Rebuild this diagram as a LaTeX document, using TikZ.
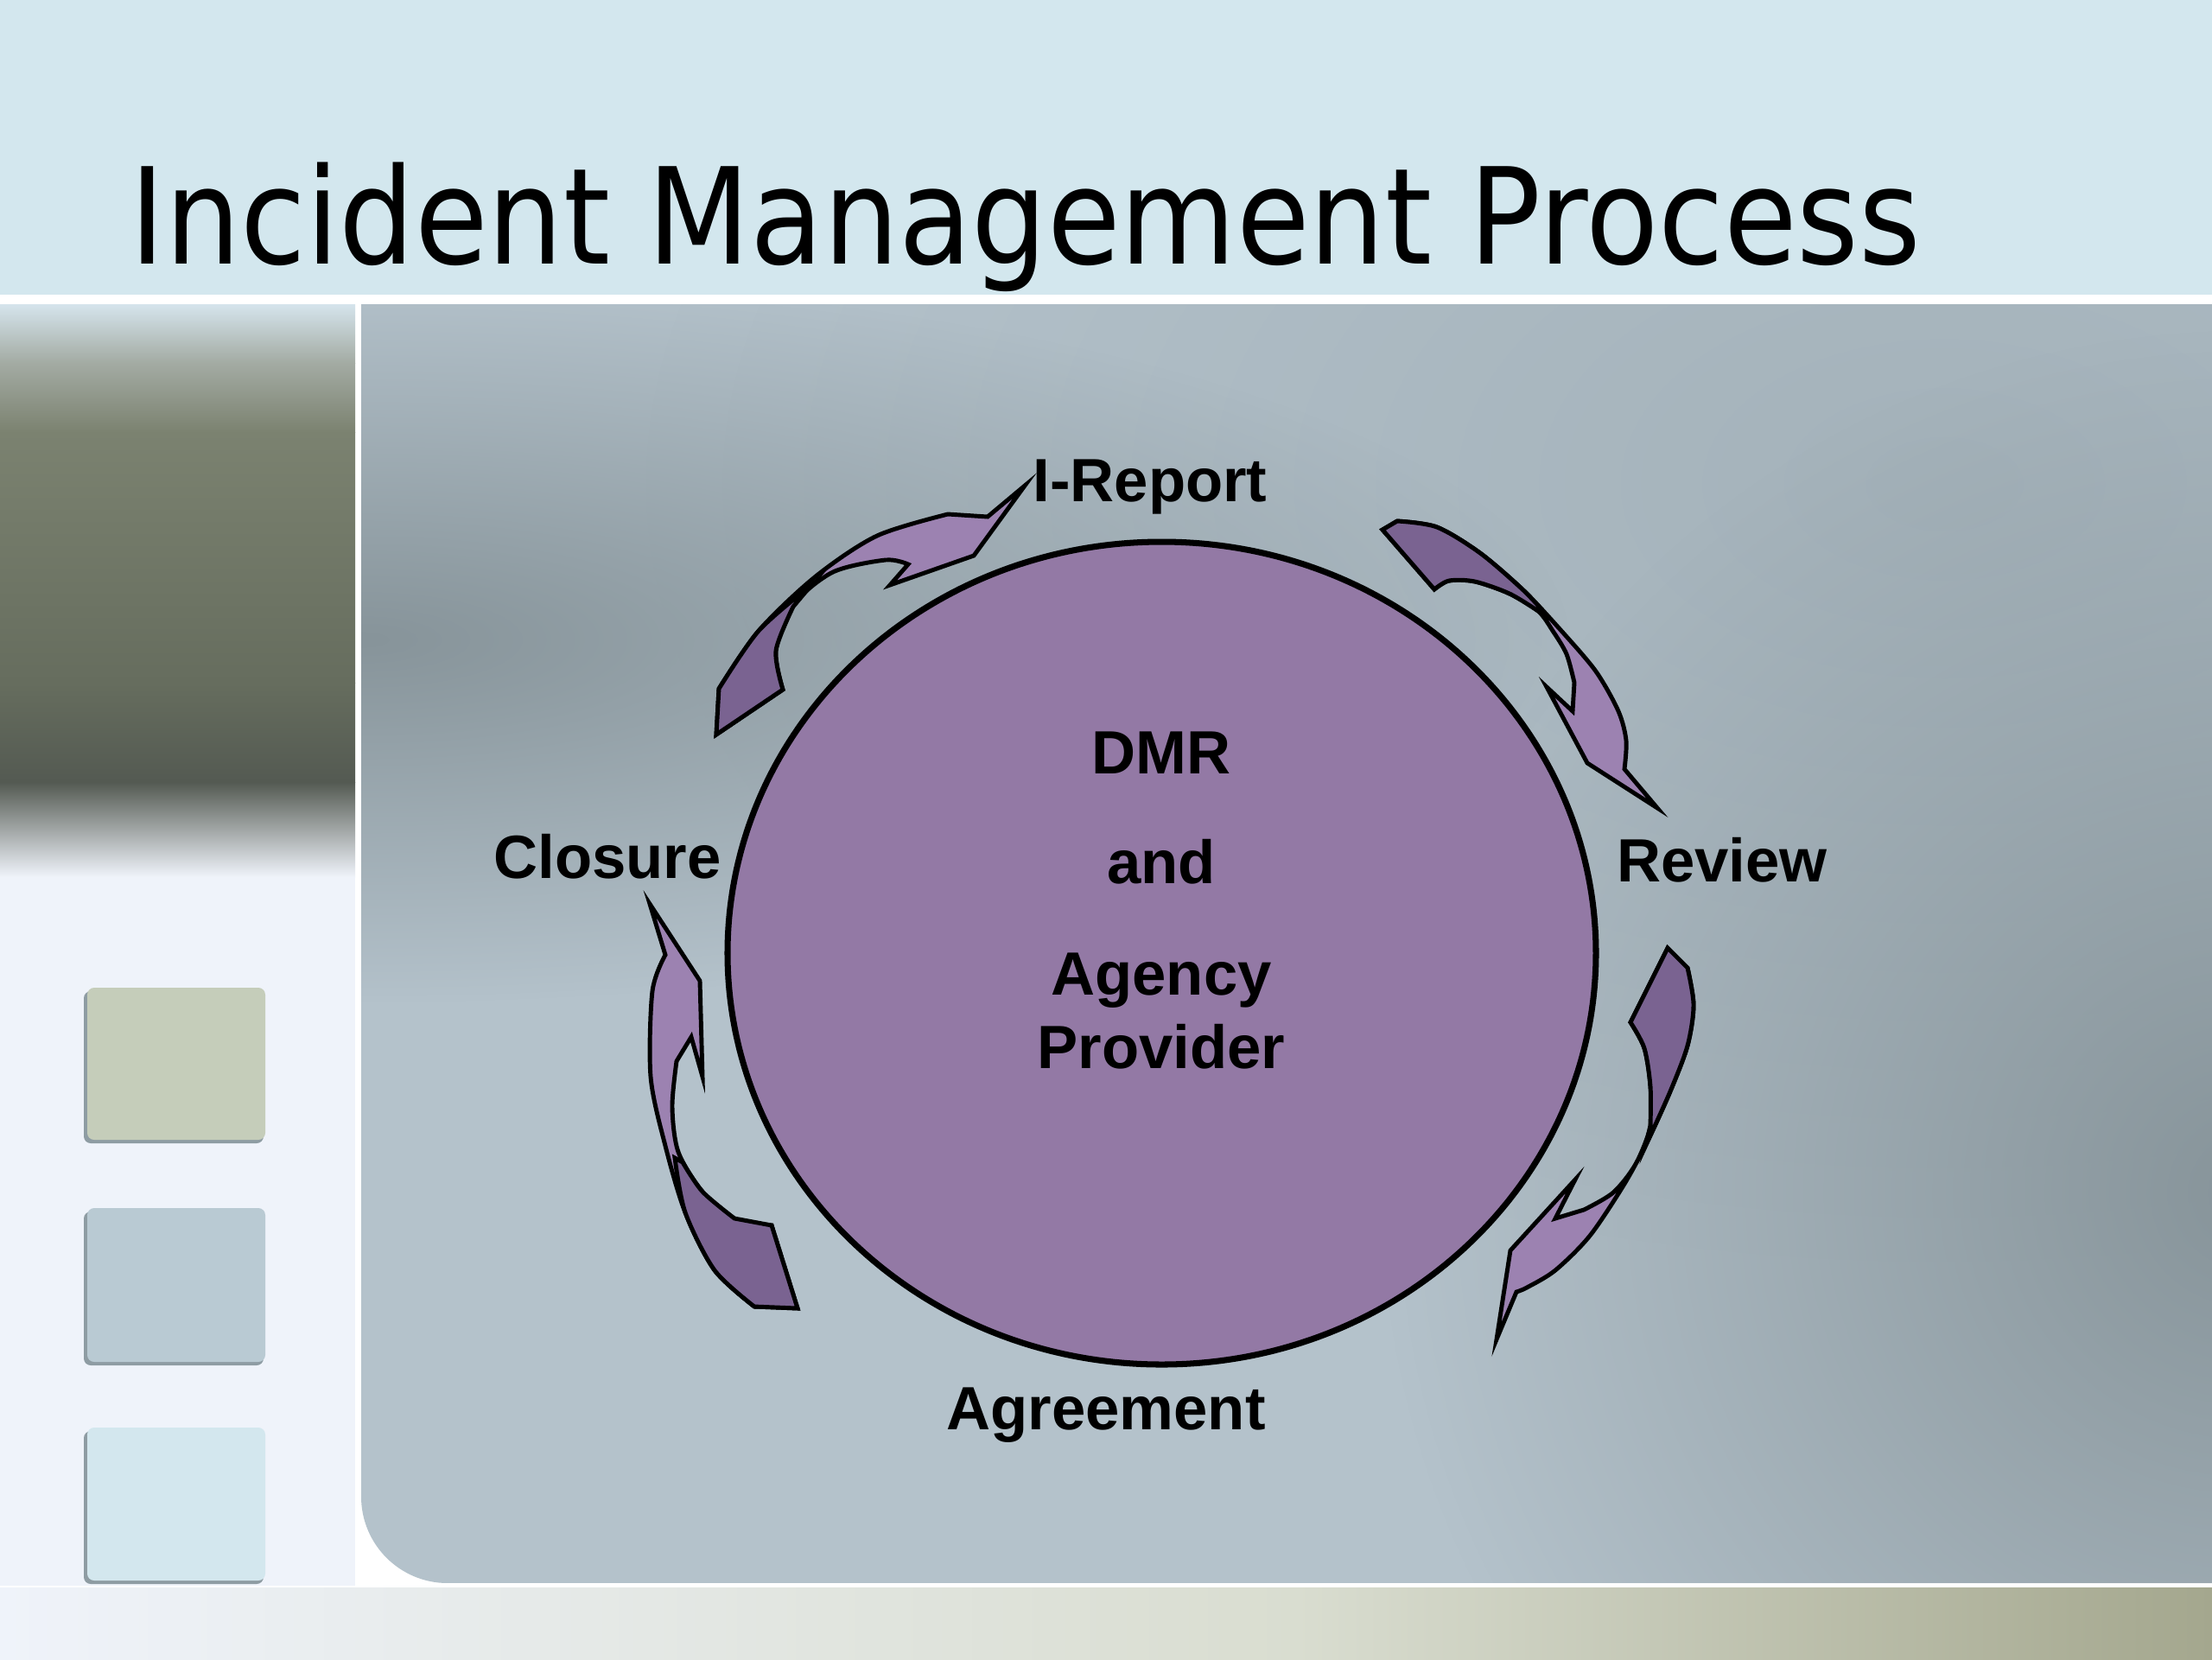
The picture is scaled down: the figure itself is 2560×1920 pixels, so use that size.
\documentclass[tikz,border=0pt]{standalone}
\usepackage{fontspec}
\setmainfont{Liberation Sans}
\newfontfamily\titlefont[FakeStretch=0.89]{DejaVu Sans}
\usetikzlibrary{fadings}

\definecolor{bandblue}{HTML}{D3E7EE}
\definecolor{paleside}{HTML}{EFF3FA}
\definecolor{panelgray}{HTML}{B4C2CB}
\definecolor{panelshadow}{HTML}{87949A}
\definecolor{discpurple}{HTML}{9379A5}
\definecolor{arrowlight}{HTML}{9C82B1}
\definecolor{arrowdark}{HTML}{7A6391}
\definecolor{tileolive}{HTML}{C5CDBA}
\definecolor{tilegray}{HTML}{B9CAD3}
\definecolor{tileblue}{HTML}{D3E7EE}
\definecolor{tileedge}{HTML}{8E9CA3}

\tikzfading[name=softblob, inner color=transparent!0, outer color=transparent!100]

\tikzset{
  steplabel/.style={font=\bfseries\fontsize{20.1}{24}\selectfont, inner sep=0pt, anchor=base},
  titletext/.style={font=\titlefont\fontsize{44}{50}\selectfont, inner sep=0pt, anchor=base west},
  twist/.style={draw=black, line width=1.4pt, line join=miter, fill=arrowlight},
  tile/.style={rounded corners=0.8mm}
}

\begin{document}
\begin{tikzpicture}[x=0.01cm, y=-0.01cm]
    \useasboundingbox (0,0) rectangle (2560,1920);
    \fill[white] (0,0) rectangle (2560,1920);

    % Title band
    \fill[bandblue] (0,0) rectangle (2560,341);
    \node[titletext] (title) at (150,305) {Incident Management Process};

    % Left side panel with blurred band
    \shade[top color={rgb,255:red,213;green,228;blue,236}, bottom color={rgb,255:red,163;green,171;blue,163}] (0,352) rectangle (411,420);
    \shade[top color={rgb,255:red,163;green,171;blue,163}, bottom color={rgb,255:red,123;green,130;blue,112}] (0,420) rectangle (411,500);
    \shade[top color={rgb,255:red,123;green,130;blue,112}, bottom color={rgb,255:red,102;green,109;blue,94}] (0,500) rectangle (411,790);
    \shade[top color={rgb,255:red,102;green,109;blue,94}, bottom color={rgb,255:red,84;green,90;blue,82}] (0,790) rectangle (411,905);
    \shade[top color={rgb,255:red,84;green,90;blue,82}, bottom color=paleside] (0,905) rectangle (411,1015);
    \fill[paleside] (0,1015) rectangle (411,1835);

    % Tiles
    \fill[tileedge, tile] (97,1147) rectangle (305,1323);
    \fill[tileolive, tile] (101,1143) rectangle (307,1319);
    \fill[tileedge, tile] (97,1402) rectangle (305,1580);
    \fill[tilegray, tile] (101,1398) rectangle (307,1576);
    \fill[tileedge, tile] (97,1656) rectangle (305,1833);
    \fill[tileblue, tile] (101,1652) rectangle (307,1829);

    % Bottom strip
    \shade[left color=paleside, right color={rgb,255:red,217;green,221;blue,208}] (0,1837) rectangle (1500,1920);
    \shade[left color={rgb,255:red,217;green,221;blue,208}, right color={rgb,255:red,164;green,167;blue,142}] (1500,1837) rectangle (2560,1920);

    % Main panel
    \begin{scope}
        \clip (2560,352) -- (418,352) [rounded corners=1cm] -- (418,1832) [sharp corners] -- (2560,1832) -- cycle;
        \fill[panelgray] (418,352) rectangle (2560,1832);
        \fill[panelshadow!35!panelgray, path fading=softblob] (2250,560) ellipse [x radius=1500, y radius=900];
        \fill[panelshadow, path fading=softblob] (420,740) ellipse [x radius=1400, y radius=420];
        \fill[panelshadow, path fading=softblob] (2600,1380) ellipse [x radius=1000, y radius=1000];
    \end{scope}

    % Disc
    \coordinate (hub) at (1344.5,1103);
    \draw[line width=2pt, fill=discpurple] (hub) ellipse [x radius=502.5, y radius=476];
    \node[steplabel] (dmr) at (1344,895) {DMR};
    \node[steplabel] (andword) at (1344,1022) {and};
    \node[steplabel] (agency) at (1344,1151) {Agency};
    \node[steplabel] (provider) at (1344,1236) {Provider};

    % Curved arrows
    % Closure -> I-Report
    \draw[twist] (829,850) -- plot[smooth] coordinates {(832,797) (878,730) (944,667) (1015,620) (1097,595)}
        -- (1143,598) -- (1186,562) -- (1127,643) -- (1030,677)
        -- plot[smooth] coordinates {(1051,653) (1025,648) (964,662) (918,700) (898,753) (906,798)} -- cycle;
    \draw[twist, fill=arrowdark] (829,850) -- plot[smooth] coordinates {(832,797) (878,730) (939,677)}
        -- plot[smooth] coordinates {(918,702) (898,753) (906,798)} -- cycle;

    % I-Report -> Review
    \draw[twist] (1600,613) -- plot[smooth] coordinates {(1617,603) (1663,610) (1713,640) (1763,683) (1807,730) (1847,777) (1873,823) (1882,857) (1880,890)}
        -- (1918,935) -- (1837,883) -- (1790,795) -- (1820,823)
        -- plot[smooth] coordinates {(1822,790) (1813,757) (1797,730) (1780,707) (1747,687) (1707,673) (1677,672) (1660,682)} -- cycle;
    \draw[twist, fill=arrowdark] (1600,613) -- plot[smooth] coordinates {(1617,603) (1663,610) (1713,640) (1763,683) (1790,712)}
        -- plot[smooth] coordinates {(1780,707) (1747,687) (1707,673) (1677,672) (1660,682)} -- cycle;

    % Review -> Agreement
    \draw[twist] (1930,1097) -- plot[smooth] coordinates {(1953,1120) (1960,1163) (1953,1210) (1933,1263) (1907,1320) (1880,1370) (1840,1430) (1800,1470) (1767,1490) (1755,1495)}
        -- (1732,1550) -- (1748,1447) -- (1823,1365) -- (1800,1410)
        -- plot[smooth] coordinates {(1833,1400) (1867,1380) (1893,1347) (1910,1303) (1910,1257) (1903,1213) (1887,1183)} -- cycle;
    \draw[twist, fill=arrowdark] (1930,1097) -- plot[smooth] coordinates {(1953,1120) (1960,1163) (1953,1210) (1933,1263) (1905,1325)}
        -- plot[smooth] coordinates {(1910,1303) (1910,1257) (1903,1213) (1887,1183)} -- cycle;

    % Agreement -> Closure
    \draw[twist] (752,1046) -- (810,1135) -- (813,1246) -- (800,1200)
        -- plot[smooth] coordinates {(783,1228) (778,1281) (785,1333) (813,1379) (850,1410) (893,1418)}
        -- (923,1514)
        -- plot[smooth] coordinates {(873,1512) (827,1470) (793,1403) (770,1326) (753,1246) (755,1147) (770,1105)} -- cycle;
    \draw[twist, fill=arrowdark] (893,1418) -- (923,1514)
        -- plot[smooth] coordinates {(873,1512) (827,1470) (793,1403) (781,1340)}
        -- plot[smooth] coordinates {(790,1345) (813,1379) (850,1410)} -- cycle;

    % Step labels
    \node[steplabel] (ireport) at (1331,580) {I-Report};
    \node[steplabel] (review) at (1993,1020) {Review};
    \node[steplabel] (agreement) at (1280,1654) {Agreement};
    \node[steplabel] (closure) at (703,1016) {Closure};
\end{tikzpicture}
\end{document}
